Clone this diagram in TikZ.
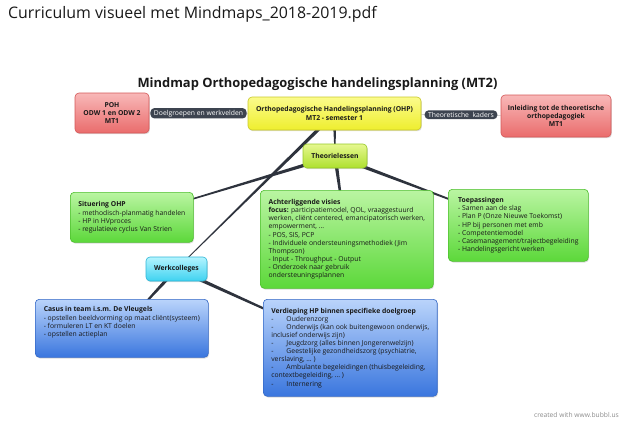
\documentclass[tikz,border=0pt]{standalone}
\usepackage{fontspec}
\setmainfont{Open Sans}
\usepackage{tikz}
\usetikzlibrary{positioning,shadows,calc,backgrounds}

\definecolor{redtop}{HTML}{F8B8B8}
\definecolor{redbot}{HTML}{EA6C6C}
\definecolor{redline}{HTML}{D45858}
\definecolor{yeltop}{HTML}{FBFB8C}
\definecolor{yelbot}{HTML}{EEEE2E}
\definecolor{yelline}{HTML}{C8C82A}
\definecolor{limetop}{HTML}{E6F890}
\definecolor{limebot}{HTML}{AEE02E}
\definecolor{limeline}{HTML}{96C828}
\definecolor{grntop}{HTML}{BAF5A2}
\definecolor{grnbot}{HTML}{5CD83A}
\definecolor{grnline}{HTML}{4CBF2C}
\definecolor{cyantop}{HTML}{B4F4FF}
\definecolor{cyanbot}{HTML}{3ED2F0}
\definecolor{cyanline}{HTML}{2FB6D6}
\definecolor{bluetop}{HTML}{BAD4FB}
\definecolor{bluebot}{HTML}{3A76DE}
\definecolor{blueline}{HTML}{3468C6}
\definecolor{pillc}{HTML}{3D4450}
\definecolor{linkc}{HTML}{2E333D}

\tikzset{
    box/.style={rounded corners=4pt, line width=0.6pt, inner xsep=8pt, inner ysep=6pt,
        font=\fontsize{6.8}{8.1}\selectfont, text=black!90,
        drop shadow={opacity=0.28, shadow xshift=0.8pt, shadow yshift=-1.2pt}},
    hub/.style={box, align=center, inner xsep=5pt, font=\fontsize{6.8}{8.4}\selectfont\bfseries},
    info/.style={box, align=left, anchor=north west},
    redbox/.style={draw=redline, top color=redtop, bottom color=redbot},
    yelbox/.style={draw=yelline, top color=yeltop, bottom color=yelbot},
    limebox/.style={draw=limeline, top color=limetop, bottom color=limebot},
    grnbox/.style={draw=grnline, top color=grntop, bottom color=grnbot},
    cyanbox/.style={draw=cyanline, top color=cyantop, bottom color=cyanbot},
    bluebox/.style={draw=blueline, top color=bluetop, bottom color=bluebot},
    pill/.style={fill=pillc, text=white, rounded corners=4pt, inner xsep=3.5pt,
        inner ysep=1.8pt, font=\fontsize{6.8}{7.5}\selectfont},
    relline/.style={draw=black!25, line width=0.5pt}
}

% tapered connector from parent #1 to child #2
\newcommand{\taper}[2]{%
    \fill[linkc] ($(#1.center)!1.9pt!90:(#2.center)$) -- ($(#1.center)!1.9pt!-90:(#2.center)$)
        -- ($(#2.center)!0.3pt!90:(#1.center)$) -- ($(#2.center)!0.3pt!-90:(#1.center)$) -- cycle;
}
\newcommand{\tb}{\hspace*{13pt}}

\begin{document}
\begin{tikzpicture}[x=1pt, y=-1pt]
    \useasboundingbox (0,0) rectangle (640,431);

    % Titles
    \node[anchor=base west, inner sep=0pt, font=\fontsize{15.9}{18}\selectfont, text=black!90] (doctitle) at (8,18)
        {Curriculum visueel met Mindmaps\_2018-2019.pdf};
    \node[anchor=base, inner sep=0pt, font=\fontsize{12.9}{15}\selectfont\bfseries, text=black!90] (maptitle) at (317.5,87)
        {Mindmap Orthopedagogische handelingsplanning (MT2)};

    % Top row
    \node[hub, redbox, minimum width=74pt, minimum height=40pt] (poh) at (112,113)
        {POH\\ODW 1 en ODW 2\\MT1};
    \node[hub, yelbox, minimum width=173pt, minimum height=33pt] (ohp) at (334.5,113.5)
        {Orthopedagogische Handelingsplanning (OHP)\\MT2 - semester 1};
    \node[hub, redbox, minimum width=110pt, minimum height=42pt] (inleiding) at (556,116)
        {Inleiding tot de theoretische\\orthopedagogiek\\MT1};

    % Branch hubs
    \node[hub, limebox, minimum width=64pt, minimum height=24pt] (theorie) at (335,156) {Theorielessen};
    \node[hub, cyanbox, minimum width=61pt, minimum height=24pt] (werk) at (176.5,269) {Werkcolleges};

    % Info boxes
    \node[info, grnbox, minimum width=123pt, minimum height=50pt] (situering) at (70,192)
        {\textbf{Situering OHP}\\- methodisch-planmatig handelen\\- HP in HVproces\\- regulatieve cyclus Van Strien};
    \node[info, grnbox, minimum width=173pt, minimum height=98pt] (achter) at (260,190)
        {\textbf{Achterliggende visies}\\
         \textbf{focus:} participatiemodel, QOL, vraaggestuurd\\
         werken, cliënt centered, emancipatorisch werken,\\
         empowerment, ...\\
         - POS, SIS, PCP\\
         - Individuele ondersteuningsmethodiek (Jim\\
         Thompson)\\
         - Input - Throughput - Output\\
         - Onderzoek naar gebruik\\
         ondersteuningsplannen};
    \node[info, grnbox, minimum width=140pt, minimum height=72pt] (toep) at (448,189)
        {\textbf{Toepassingen}\\- Samen aan de slag\\- Plan P (Onze Nieuwe Toekomst)\\- HP bij personen met emb\\
         - Competentiemodel\\- Casemanagement/trajectbegeleiding\\- Handelingsgericht werken};
    \node[info, bluebox, minimum width=173pt, minimum height=58pt] (casus) at (35,299)
        {\textbf{Casus in team i.s.m. De Vleugels}\\- opstellen beeldvorming op maat cliënt(systeem)\\
         - formuleren LT en KT doelen\\- opstellen actieplan\\[-4pt]\rule{0pt}{15pt}};
    \node[info, bluebox, minimum width=173pt, minimum height=97pt] (verdieping) at (263,299)
        {\textbf{Verdieping HP binnen specifieke doelgroep}\\
         -\tb Ouderenzorg\\
         -\tb Onderwijs (kan ook buitengewoon onderwijs,\\
         inclusief onderwijs zijn)\\
         -\tb Jeugdzorg (alles binnen Jongerenwelzijn)\\
         -\tb Geestelijke gezondheidszorg (psychiatrie,\\
         verslaving, … )\\
         -\tb Ambulante begeleidingen (thuisbegeleiding,\\
         contextbegeleiding, … )\\
         -\tb Internering};

    % Relations with labels
    \begin{scope}[on background layer]
        \draw[relline] (poh) -- (ohp);
        \draw[relline] (ohp) -- (inleiding);
        % Tapered branches
        \foreach \a/\b in {ohp/theorie, ohp/werk, theorie/situering, theorie/achter,
                theorie/toep, werk/casus, werk/verdieping} {
            \taper{\a}{\b}
        }
    \end{scope}
    \node[pill] (doelgroep) at ($(poh.east)!0.5!(ohp.west)$) {Doelgroepen en werkvelden};
    \node[pill] (kaders) at ($(ohp.east)!0.5!(inleiding.west)$) {Theoretische~ kaders};

    \node[anchor=base east, inner sep=0pt, font=\fontsize{6.7}{7.5}\selectfont, text=black!45] (credit) at (619,417)
        {created with www.bubbl.us};
\end{tikzpicture}
\end{document}
